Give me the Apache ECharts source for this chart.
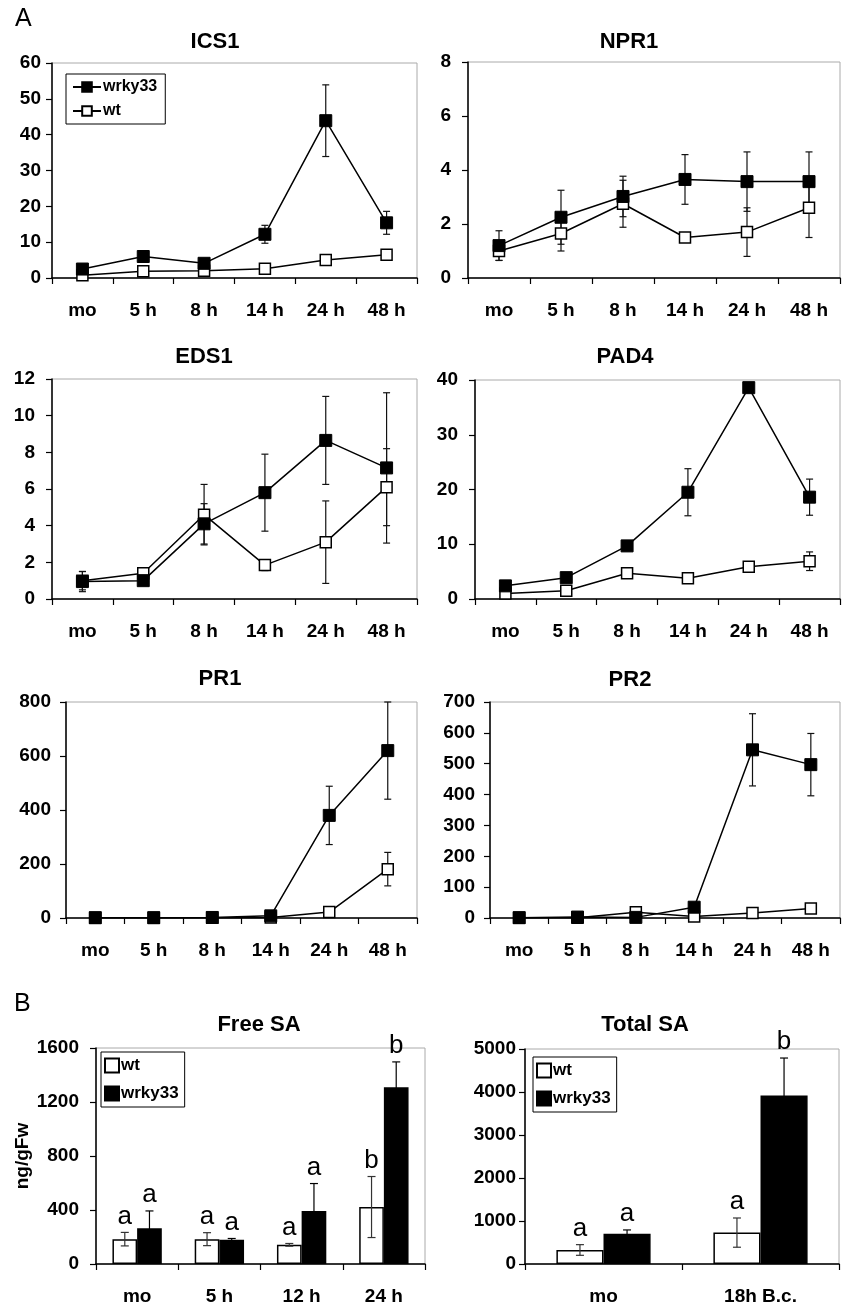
<!DOCTYPE html>
<html><head><meta charset="utf-8">
<script src="https://cdn.jsdelivr.net/npm/echarts@6/dist/echarts.min.js"></script>
<style>
html,body{margin:0;padding:0;background:#fff;}
#a{position:absolute;left:0;top:0;width:844px;height:960px;}
#b{position:absolute;left:0;top:960px;width:844px;height:346px;}
</style>
</head><body><div id="a"></div><div id="b"></div>
<script>
// ---------- data ----------
const timeCats = ['mo', '5 h', '8 h', '14 h', '24 h', '48 h'];

const ics1Wrky = [2.5, 6.0, 4.1, 12.2, 43.9, 15.4];
const ics1WrkyErr = [0.5, 0.6, 0.5, 2.5, 10.0, 3.2];
const ics1Wt = [0.8, 1.9, 2.0, 2.6, 5.0, 6.5];
const ics1WtErr = [0.3, 0.4, 0.4, 0.4, 0.5, 0.8];

const npr1Wrky = [1.2, 2.25, 3.02, 3.65, 3.57, 3.57];
const npr1WrkyErr = [0.55, 1.0, 0.75, 0.92, 1.1, 1.1];
const npr1Wt = [1.0, 1.65, 2.75, 1.5, 1.7, 2.6];
const npr1WtErr = [0.35, 0.65, 0.87, 0.05, 0.9, 1.1];

const eds1Wrky = [0.95, 1.0, 4.1, 5.8, 8.65, 7.15];
const eds1WrkyErr = [0.55, 0.1, 1.1, 2.1, 2.4, 4.1];
const eds1Wt = [1.0, 1.4, 4.6, 1.85, 3.1, 6.1];
const eds1WtErr = [0.5, 0.1, 1.65, 0.3, 2.25, 2.1];

const pad4Wrky = [2.4, 3.9, 9.7, 19.5, 38.6, 18.6];
const pad4WrkyErr = [0.3, 0.3, 0.3, 4.3, 0.7, 3.3];
const pad4Wt = [1.0, 1.5, 4.7, 3.8, 5.9, 6.9];
const pad4WtErr = [0.2, 0.2, 0.6, 0.3, 0.6, 1.7];

const pr1Wrky = [1, 1, 2, 8, 380, 620];
const pr1WrkyErr = [0, 0, 0, 2, 108, 180];
const pr1Wt = [0.5, 0.5, 0.5, 2, 22, 181];
const pr1WtErr = [0, 0, 0, 1, 5, 62];

const pr2Wrky = [1, 3, 2, 35, 545, 497];
const pr2WrkyErr = [0, 0, 0, 3, 117, 101];
const pr2Wt = [0.5, 1, 19, 5, 16, 31];
const pr2WtErr = [0, 0, 2, 1, 2, 3];

const freeCats = ['mo', '5 h', '12 h', '24 h'];
const freeWt = [184, 184, 142, 422];
const freeWtErr = [50, 48, 10, 226];
const freeWrky = [265, 179, 393, 1310];
const freeWrkyErr = [128, 10, 203, 187];
const freeWtLetters = ['a', 'a', 'a', 'b'];
const freeWrkyLetters = ['a', 'a', 'a', 'b'];

const totalCats = ['mo', '18h B.c.'];
const totalWt = [326, 730];
const totalWtErr = [124, 340];
const totalWrky = [706, 3920];
const totalWrkyErr = [86, 870];
const totalWtLetters = ['a', 'a'];
const totalWrkyLetters = ['a', 'b'];

// ---------- styling helpers ----------
const FF = '"Liberation Sans", Arial, sans-serif';
const tickFont = { fontFamily: FF, fontWeight: 'bold', fontSize: 19, color: '#000' };

function mkGrid(l, t, w, h) {
  return { left: l, top: t, width: w, height: h, show: true, borderColor: '#aaa', borderWidth: 1, backgroundColor: 'transparent', containLabel: false };
}
function mkX(idx, cats) {
  return {
    type: 'category', gridIndex: idx, data: cats, boundaryGap: true,
    axisLine: { lineStyle: { color: '#000', width: 1.5 } },
    axisTick: { show: true, inside: false, length: 6, lineStyle: { color: '#000', width: 1.2 } },
    axisLabel: Object.assign({ margin: 23, interval: 0 }, tickFont),
    splitLine: { show: false }
  };
}
function mkY(idx, max, interval, margin, extra) {
  return Object.assign({
    type: 'value', gridIndex: idx, min: 0, max: max, interval: interval,
    axisLine: { show: true, lineStyle: { color: '#000', width: 1.5 } },
    axisTick: { show: true, inside: false, length: 6, lineStyle: { color: '#000', width: 1.2 } },
    axisLabel: Object.assign({ margin: margin, formatter: (v) => String(v) }, tickFont),
    splitLine: { show: false }
  }, extra || {});
}
function lineSeries(idx, name, vals, filled) {
  return {
    type: 'line', name: name, xAxisIndex: idx, yAxisIndex: idx, data: vals,
    symbol: 'rect', symbolSize: filled ? 12 : 11, showSymbol: true,
    lineStyle: { color: '#000', width: 1.5 },
    itemStyle: filled ? { color: '#000', borderColor: '#000', borderWidth: 1 } : { color: '#fff', borderColor: '#000', borderWidth: 1.5 },
    z: filled ? 4 : 3, animation: false
  };
}
function errSeries(idx, vals, errs, z) {
  return {
    type: 'custom', xAxisIndex: idx, yAxisIndex: idx, silent: true, z: z, animation: false,
    data: vals.map((v, i) => [i, v - errs[i], v + errs[i]]),
    renderItem: function (params, api) {
      const i = api.value(0);
      const lo = api.coord([i, api.value(1)]);
      const hi = api.coord([i, api.value(2)]);
      const x = lo[0], c = 3.5;
      const st = { stroke: '#111', lineWidth: 1.2 };
      return { type: 'group', children: [
        { type: 'line', shape: { x1: x, y1: lo[1], x2: x, y2: hi[1] }, style: st },
        { type: 'line', shape: { x1: x - c, y1: lo[1], x2: x + c, y2: lo[1] }, style: st },
        { type: 'line', shape: { x1: x - c, y1: hi[1], x2: x + c, y2: hi[1] }, style: st }
      ]};
    }
  };
}
function mkTitle(text, cx, top) {
  return { text: text, left: cx, top: top, textAlign: 'center', padding: 0,
    textStyle: { fontFamily: FF, fontWeight: 'bold', fontSize: 22, color: '#000' } };
}

// ---------- panel A (line charts) ----------
const panels = [
  { t: 'ICS1', tx: 215, ty: 31, g: [52, 63, 365, 215], max: 60, iv: 10, m: 11, wk: ics1Wrky, wkE: ics1WrkyErr, wt: ics1Wt, wtE: ics1WtErr },
  { t: 'NPR1', tx: 629, ty: 31, g: [468, 62, 372, 216], max: 8, iv: 2, m: 17, wk: npr1Wrky, wkE: npr1WrkyErr, wt: npr1Wt, wtE: npr1WtErr },
  { t: 'EDS1', tx: 204, ty: 346, g: [52, 379, 365, 220], max: 12, iv: 2, m: 17, wk: eds1Wrky, wkE: eds1WrkyErr, wt: eds1Wt, wtE: eds1WtErr },
  { t: 'PAD4', tx: 625, ty: 346, g: [475, 380, 365, 219], max: 40, iv: 10, m: 17, wk: pad4Wrky, wkE: pad4WrkyErr, wt: pad4Wt, wtE: pad4WtErr },
  { t: 'PR1', tx: 220, ty: 668, g: [66, 702, 351, 216], max: 800, iv: 200, m: 15, wk: pr1Wrky, wkE: pr1WrkyErr, wt: pr1Wt, wtE: pr1WtErr },
  { t: 'PR2', tx: 630, ty: 669, g: [490, 702, 350, 216], max: 700, iv: 100, m: 15, wk: pr2Wrky, wkE: pr2WrkyErr, wt: pr2Wt, wtE: pr2WtErr }
];

const optA = { animation: false, title: [], grid: [], xAxis: [], yAxis: [], series: [],
  legend: {
    orient: 'vertical', left: 66, top: 74, data: ['wrky33', 'wt'],
    backgroundColor: '#fff', borderColor: '#000', borderWidth: 1, padding: [5, 8, 5, 6],
    itemWidth: 28, itemHeight: 12, itemGap: 8, selectedMode: false,
    textStyle: { fontFamily: FF, fontWeight: 'bold', fontSize: 16, color: '#000', padding: [0, 0, 0, -3] }
  },
  graphic: [{ type: 'text', left: 15, top: 7, style: { text: 'A', fontFamily: FF, fontSize: 25, fill: '#000' } }]
};
panels.forEach((p, i) => {
  optA.title.push(mkTitle(p.t, p.tx, p.ty));
  optA.grid.push(mkGrid(p.g[0], p.g[1], p.g[2], p.g[3]));
  optA.xAxis.push(mkX(i, timeCats));
  optA.yAxis.push(mkY(i, p.max, p.iv, p.m));
  optA.series.push(errSeries(i, p.wt, p.wtE, 2));
  optA.series.push(errSeries(i, p.wk, p.wkE, 2));
  optA.series.push(lineSeries(i, 'wt', p.wt, false));
  optA.series.push(lineSeries(i, 'wrky33', p.wk, true));
});
echarts.init(document.getElementById('a'), null, { renderer: 'canvas' }).setOption(optA);

// ---------- panel B (bar charts) ----------
function barSeries(idx, name, vals, filled) {
  return {
    type: 'bar', name: name, xAxisIndex: idx, yAxisIndex: idx, data: vals,
    barGap: '0%', barCategoryGap: '40%',
    itemStyle: filled ? { color: '#000', borderColor: '#000', borderWidth: 1.5 } : { color: '#fff', borderColor: '#000', borderWidth: 1.5 },
    z: 2, animation: false
  };
}
function barErrSeries(idx, vals, errs, letters, side) {
  return {
    type: 'custom', xAxisIndex: idx, yAxisIndex: idx, silent: true, z: 5, animation: false,
    data: vals.map((v, i) => [i, v - errs[i], v + errs[i]]),
    renderItem: function (params, api) {
      const i = api.value(0);
      const band = api.size([1, 0])[0];
      const lo = api.coord([i, api.value(1)]);
      const hi = api.coord([i, api.value(2)]);
      const x = lo[0] + side * band * 0.15, c = 4;
      const st = { stroke: side < 0 ? '#333' : '#000', lineWidth: 1.2 };
      return { type: 'group', children: [
        { type: 'line', shape: { x1: x, y1: lo[1], x2: x, y2: hi[1] }, style: st },
        { type: 'line', shape: { x1: x - c, y1: lo[1], x2: x + c, y2: lo[1] }, style: st },
        { type: 'line', shape: { x1: x - c, y1: hi[1], x2: x + c, y2: hi[1] }, style: st },
        { type: 'text', style: { text: letters[params.dataIndex], x: x, y: hi[1] - 3, align: 'center', verticalAlign: 'bottom',
            fontFamily: FF, fontSize: 26, fill: '#000' } }
      ]};
    }
  };
}
const barLegend = (l, t) => ({
  orient: 'vertical', left: l, top: t, data: ['wt', 'wrky33'],
  backgroundColor: '#fff', borderColor: '#000', borderWidth: 1, padding: [5, 6, 5, 3],
  itemWidth: 14, itemHeight: 14, itemGap: 11, icon: 'rect', selectedMode: false,
  textStyle: { fontFamily: FF, fontWeight: 'bold', fontSize: 17, color: '#000', padding: [0, 0, 0, -3] }
});

const optB = { animation: false,
  title: [mkTitle('Free SA', 259, 54), mkTitle('Total SA', 645, 54)],
  grid: [mkGrid(96, 88, 329, 217), mkGrid(525, 89, 314, 215)],
  xAxis: [mkX(0, freeCats), mkX(1, totalCats)],
  yAxis: [
    mkY(0, 1600, 400, 17, { name: 'ng/gFw', nameLocation: 'middle', nameGap: 64, nameRotate: 90,
      nameTextStyle: { fontFamily: FF, fontWeight: 'bold', fontSize: 19, color: '#000' } }),
    mkY(1, 5000, 1000, 9)
  ],
  legend: [barLegend(101, 92), barLegend(533, 97)],
  series: [
    barSeries(0, 'wt', freeWt, false), barSeries(0, 'wrky33', freeWrky, true),
    barErrSeries(0, freeWt, freeWtErr, freeWtLetters, -1), barErrSeries(0, freeWrky, freeWrkyErr, freeWrkyLetters, 1),
    barSeries(1, 'wt', totalWt, false), barSeries(1, 'wrky33', totalWrky, true),
    barErrSeries(1, totalWt, totalWtErr, totalWtLetters, -1), barErrSeries(1, totalWrky, totalWrkyErr, totalWrkyLetters, 1)
  ],
  graphic: [{ type: 'text', left: 14, top: 32, style: { text: 'B', fontFamily: FF, fontSize: 25, fill: '#000' } }]
};
echarts.init(document.getElementById('b'), null, { renderer: 'canvas' }).setOption(optB);
</script>
</body></html>
